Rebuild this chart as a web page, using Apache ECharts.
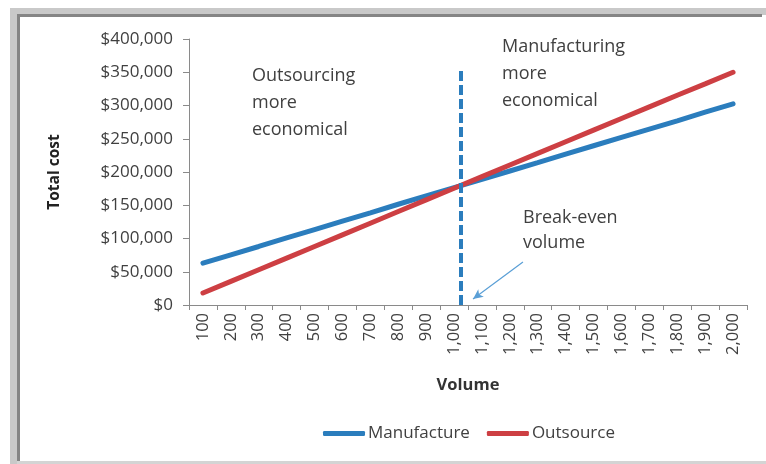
<!DOCTYPE html>
<html>
<head>
<meta charset="utf-8">
<script src="https://cdn.jsdelivr.net/npm/echarts@6/dist/echarts.min.js"></script>
<style>
html,body{margin:0;padding:0;background:#fff;}
#wrap{position:relative;width:766px;height:464px;overflow:hidden;background:#fff;}
.fr{position:absolute;}
#chart{position:absolute;left:0;top:0;width:766px;height:464px;}
</style>
</head>
<body>
<div id="wrap">
  <div class="fr" style="left:10px;top:8px;width:756px;height:7px;background:#c9c9c9;"></div>
  <div class="fr" style="left:10px;top:8px;width:7px;height:456px;background:#c9c9c9;"></div>
  <div class="fr" style="left:17px;top:14px;width:745px;height:3px;background:#858585;"></div>
  <div class="fr" style="left:17px;top:14px;width:3px;height:448px;background:#858585;"></div>
  <div class="fr" style="left:17px;top:461px;width:749px;height:3px;background:#d4d4d4;"></div>
  <div id="chart"></div>
</div>
<script>
// ---- data ----
var volumes = ['100','200','300','400','500','600','700','800','900','1,000','1,100','1,200','1,300','1,400','1,500','1,600','1,700','1,800','1,900','2,000'];
var manufacture = [63000, 75500, 88000, 101000, 113500, 126000, 138500, 151500, 164000, 176500, 189000, 201500, 214000, 227000, 239500, 252000, 264500, 277000, 290000, 302500];
var outsource = [18000, 35500, 53000, 70500, 88000, 105500, 123000, 140500, 158000, 175500, 193000, 210500, 228000, 245500, 263000, 280500, 298000, 315500, 332500, 350000];
var breakEvenVolume = 1025;
var breakEvenLineTop = 356000;
var arrowFrom = [1247, 64700];
var arrowTo = [1068, 9000];

var FONT = '"Open Sans", sans-serif';
var BLUE = '#2b7dbd';
var RED = '#cd3f43';
var TXT = '#404040';

var chart = echarts.init(document.getElementById('chart'), null, {renderer: 'canvas'});
chart.setOption({
  animation: false,
  backgroundColor: 'transparent',
  textStyle: {fontFamily: FONT},
  grid: {left: 189, right: 19, top: 39, bottom: 159, containLabel: false},
  legend: {
    data: ['Manufacture', 'Outsource'],
    left: 318, top: 420,
    icon: 'roundRect',
    itemWidth: 42, itemHeight: 5,
    itemGap: 17,
    textStyle: {fontFamily: FONT, fontSize: 17, color: TXT, padding: [0,0,0,-2]}
  },
  xAxis: [{
    type: 'category',
    data: volumes,
    boundaryGap: true,
    name: 'Volume',
    nameLocation: 'middle',
    nameGap: 72,
    nameTextStyle: {fontFamily: FONT, fontSize: 16.5, fontWeight: 'bold', color: '#333'},
    axisLine: {show: true, lineStyle: {color: '#8a8a8a', width: 1}},
    axisTick: {show: true, length: 5, alignWithLabel: false, lineStyle: {color: '#8a8a8a'}},
    axisLabel: {rotate: 90, margin: 8, fontFamily: FONT, fontSize: 16.5, color: TXT, interval: 0},
    splitLine: {show: false}
  }, {
    type: 'value',
    min: 50, max: 2050,
    show: false
  }],
  yAxis: {
    type: 'value',
    min: 0, max: 400000, interval: 50000,
    name: 'Total cost',
    nameLocation: 'middle',
    nameGap: 126,
    nameRotate: 90,
    nameTextStyle: {fontFamily: FONT, fontSize: 15.5, fontWeight: 'bold', color: '#222'},
    axisLine: {show: true, lineStyle: {color: '#8a8a8a', width: 1}},
    axisTick: {show: true, length: 6, lineStyle: {color: '#8a8a8a'}},
    axisLabel: {
      margin: 16, fontFamily: FONT, fontSize: 17, color: TXT,
      formatter: function (v) { return '$' + v.toLocaleString('en-US'); }
    },
    splitLine: {show: false}
  },
  series: [{
    name: 'Manufacture',
    type: 'line',
    data: manufacture,
    symbol: 'none',
    lineStyle: {color: BLUE, width: 5, cap: 'round'},
    itemStyle: {color: BLUE},
    z: 3
  }, {
    name: 'Outsource',
    type: 'line',
    data: outsource,
    symbol: 'none',
    lineStyle: {color: RED, width: 5, cap: 'round'},
    itemStyle: {color: RED},
    z: 4
  }, {
    name: 'annot',
    type: 'line',
    xAxisIndex: 1,
    data: [],
    silent: true,
    z: 5,
    markLine: {
      silent: true,
      animation: false,
      label: {show: false},
      data: [
        [{coord: [breakEvenVolume, 0], symbol: 'none', lineStyle: {color: BLUE, width: 4, type: [10, 4]}},
         {coord: [breakEvenVolume, breakEvenLineTop], symbol: 'none'}],
        [{coord: arrowFrom, symbol: 'none', lineStyle: {color: '#5a9fd6', width: 1.2, type: 'solid'}},
         {coord: arrowTo, symbol: 'arrow', symbolSize: [7, 10]}]
      ]
    }
  }],
  graphic: [
    {type: 'text', left: 252, top: 62, style: {text: 'Outsourcing\nmore\neconomical', fontFamily: FONT, fontSize: 18, lineHeight: 27, fill: TXT}},
    {type: 'text', left: 502, top: 33, style: {text: 'Manufacturing\nmore\neconomical', fontFamily: FONT, fontSize: 18, lineHeight: 27, fill: TXT}},
    {type: 'text', left: 523, top: 205, style: {text: 'Break-even\nvolume', fontFamily: FONT, fontSize: 18, lineHeight: 25, fill: TXT}}
  ]
});
</script>
</body>
</html>
